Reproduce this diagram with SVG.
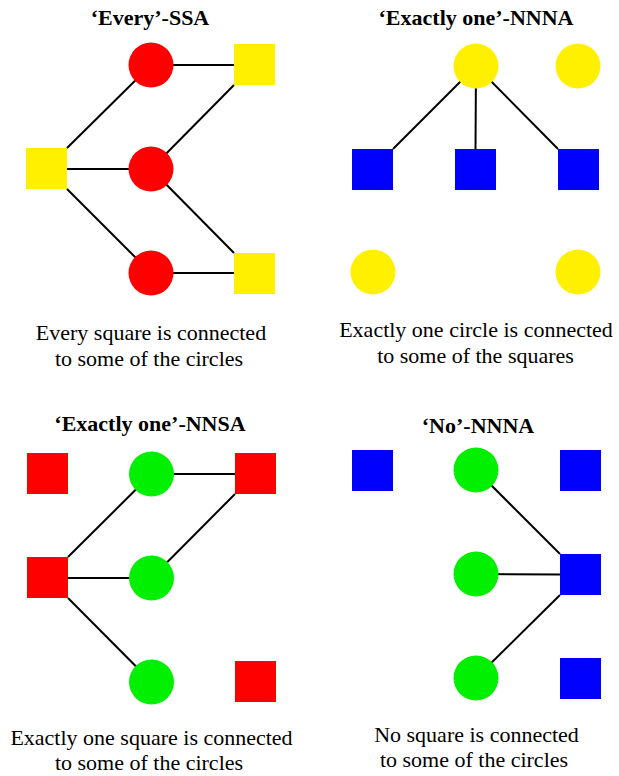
<svg xmlns="http://www.w3.org/2000/svg" width="619" height="776" viewBox="0 0 619 776">
<style>
.title{font-family:"Liberation Serif","Times New Roman",serif;font-weight:bold;font-size:22px;text-anchor:middle;fill:#000}
.cap{font-family:"Liberation Serif","Times New Roman",serif;font-size:22px;text-anchor:middle;fill:#000}
.edge{stroke:#000;stroke-width:2;fill:none}
.red{fill:#FF0000}
.yellow{fill:#FFF000}
.blue{fill:#0000FF}
.green{fill:#00F000}
</style>
<rect width="619" height="776" fill="#fff"/>
<g id="connectors">
<line class="edge" x1="67" y1="148" x2="151" y2="65"/>
<line class="edge" x1="67" y1="169" x2="151" y2="169"/>
<line class="edge" x1="67" y1="189" x2="151" y2="273"/>
<line class="edge" x1="151" y1="65" x2="234" y2="65"/>
<line class="edge" x1="151" y1="169" x2="234" y2="85"/>
<line class="edge" x1="151" y1="169" x2="234" y2="253"/>
<line class="edge" x1="151" y1="273" x2="234" y2="273"/>
<line class="edge" x1="476" y1="66" x2="393" y2="149"/>
<line class="edge" x1="476" y1="66" x2="475.5" y2="149"/>
<line class="edge" x1="476" y1="66" x2="558" y2="149"/>
<line class="edge" x1="151.5" y1="474" x2="235" y2="474"/>
<line class="edge" x1="68" y1="557" x2="151.5" y2="474"/>
<line class="edge" x1="68" y1="578" x2="151.5" y2="578"/>
<line class="edge" x1="68" y1="598" x2="151.5" y2="682"/>
<line class="edge" x1="151.5" y1="578" x2="235" y2="494"/>
<line class="edge" x1="476" y1="470" x2="560" y2="554"/>
<line class="edge" x1="476" y1="574" x2="560" y2="574.5"/>
<line class="edge" x1="476" y1="678" x2="560" y2="595"/>
</g>
<g id="panel1">
<text class="title" x="150" y="25">‘Every’-SSA</text>
<g id="p1-c1"><circle class="red" cx="151" cy="65" r="22.5"/></g>
<g id="p1-c2"><circle class="red" cx="151" cy="169" r="22.5"/></g>
<g id="p1-c3"><circle class="red" cx="151" cy="273" r="22.5"/></g>
<g id="p1-s1"><rect class="yellow" x="26" y="148" width="41" height="41"/></g>
<g id="p1-s2"><rect class="yellow" x="234" y="44" width="41" height="41"/></g>
<g id="p1-s3"><rect class="yellow" x="234" y="253" width="41" height="41"/></g>
<text class="cap" x="151" y="340">Every square is connected</text>
<text class="cap" x="149" y="366">to some of the circles</text>
</g>
<g id="panel2">
<text class="title" x="476" y="25">‘Exactly one’-NNNA</text>
<g id="p2-c1"><circle class="yellow" cx="476" cy="66" r="22.5"/></g>
<g id="p2-c2"><circle class="yellow" cx="578" cy="66" r="22.5"/></g>
<g id="p2-c3"><circle class="yellow" cx="373" cy="272" r="22.5"/></g>
<g id="p2-c4"><circle class="yellow" cx="578" cy="272" r="22.5"/></g>
<g id="p2-s1"><rect class="blue" x="352" y="149" width="41" height="41"/></g>
<g id="p2-s2"><rect class="blue" x="455" y="149" width="41" height="41"/></g>
<g id="p2-s3"><rect class="blue" x="558" y="149" width="41" height="41"/></g>
<text class="cap" x="476" y="337">Exactly one circle is connected</text>
<text class="cap" x="475.5" y="363">to some of the squares</text>
</g>
<g id="panel3">
<text class="title" x="150" y="431">‘Exactly one’-NNSA</text>
<g id="p3-c1"><circle class="green" cx="151.5" cy="474" r="22.5"/></g>
<g id="p3-c2"><circle class="green" cx="151.5" cy="578" r="22.5"/></g>
<g id="p3-c3"><circle class="green" cx="151.5" cy="682" r="22.5"/></g>
<g id="p3-s1"><rect class="red" x="27" y="453" width="41" height="41"/></g>
<g id="p3-s2"><rect class="red" x="235" y="453" width="41" height="41"/></g>
<g id="p3-s3"><rect class="red" x="27" y="557" width="41" height="41"/></g>
<g id="p3-s4"><rect class="red" x="235" y="661" width="41" height="41"/></g>
<text class="cap" x="151.5" y="745">Exactly one square is connected</text>
<text class="cap" x="149" y="770">to some of the circles</text>
</g>
<g id="panel4">
<text class="title" x="478" y="433">‘No’-NNNA</text>
<g id="p4-c1"><circle class="green" cx="476" cy="470" r="22.5"/></g>
<g id="p4-c2"><circle class="green" cx="476" cy="574" r="22.5"/></g>
<g id="p4-c3"><circle class="green" cx="476" cy="678" r="22.5"/></g>
<g id="p4-s1"><rect class="blue" x="352" y="450" width="41" height="41"/></g>
<g id="p4-s2"><rect class="blue" x="560" y="450" width="41" height="41"/></g>
<g id="p4-s3"><rect class="blue" x="560" y="554" width="41" height="41"/></g>
<g id="p4-s4"><rect class="blue" x="560" y="658" width="41" height="41"/></g>
<text class="cap" x="476.5" y="742">No square is connected</text>
<text class="cap" x="474" y="767">to some of the circles</text>
</g>
</svg>
